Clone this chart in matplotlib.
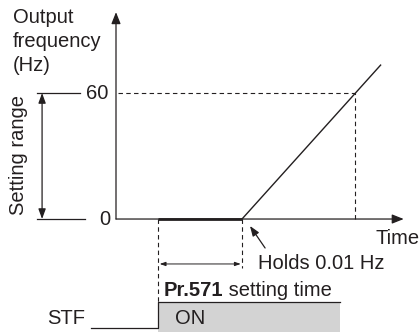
import matplotlib
matplotlib.use("Agg")
import matplotlib.pyplot as plt

plt.rcParams['font.family'] = ['Liberation Sans', 'DejaVu Sans']

# ---- data (time in arbitrary units, frequency in Hz) ----
freq_ticks = [0, 60]
freq_tick_labels = ["0", "60"]
hold_time = [1.0, 3.0]          # STF on -> end of Pr.571 hold
hold_freq = [0, 0]
ramp_time = [3.0, 6.3]
ramp_freq = [0, 73.3]
t_at_60 = 5.7
stf_off_time = 5.33

FS = 14.5
C = "#231f20"

fig = plt.figure(figsize=(4.2, 3.32), dpi=100)
ax = fig.add_axes([0, 0, 1, 1])
ax.set_xlim(-116 / 42, 304 / 42)
ax.set_ylim(-53.8, 104.3)
ax.axis("off")

# axes with arrows
ax.annotate("", xy=(0, 98.5), xytext=(0, 0),
            arrowprops=dict(arrowstyle="-|>,head_length=0.7,head_width=0.28", color=C, lw=0.9, shrinkA=0, shrinkB=0))
ax.annotate("", xy=(6.85, 0), xytext=(0, 0),
            arrowprops=dict(arrowstyle="-|>,head_length=0.7,head_width=0.28", color=C, lw=0.9, shrinkA=0, shrinkB=0))

# hold and ramp
ax.plot(hold_time, hold_freq, color=C, lw=2.0, solid_capstyle="butt")
ax.plot(ramp_time, ramp_freq, color=C, lw=1.0)

dash = dict(color=C, lw=0.8, ls=(0, (4, 3)))
ax.plot([0.05, t_at_60], [freq_ticks[1]] * 2, **dash)
ax.plot([t_at_60, t_at_60], [0, freq_ticks[1]], **dash)
ax.plot([hold_time[0]] * 2, [0, -39.5], **dash)
ax.plot([hold_time[1]] * 2, [0, -23.5], **dash)

# tick labels and leader lines
ax.plot([-1.88, -0.86], [freq_ticks[1]] * 2, color=C, lw=0.9)
ax.plot([-1.88, -0.74], [freq_ticks[0]] * 2, color=C, lw=0.9)
ax.text(-0.45, freq_ticks[1], freq_tick_labels[1], fontsize=FS, ha="center", va="center", color=C)
ax.text(-0.27, freq_ticks[0], freq_tick_labels[0], fontsize=FS, ha="center", va="center", color=C)

# setting range arrow
ax.annotate("", xy=(-1.76, freq_ticks[1]), xytext=(-1.76, freq_ticks[0]),
            arrowprops=dict(arrowstyle="<|-|>,head_length=0.6,head_width=0.22", color=C, lw=0.9, shrinkA=0, shrinkB=0))
ax.text(-2.32, 30.5, "Setting range", rotation=90, fontsize=FS, ha="center", va="center", color=C)

ax.text(-2.45, 100.3, "Output\nfrequency\n(Hz)", fontsize=FS, ha="left", va="top", color=C, linespacing=1.32)

ax.text(6.17, -9.5, "Time", fontsize=FS, ha="left", va="center", color=C)

# hold time arrow
ax.annotate("", xy=(hold_time[1] - 0.03, -21.4), xytext=(hold_time[0] + 0.04, -21.4),
            arrowprops=dict(arrowstyle="<|-|>,head_length=0.35,head_width=0.12", color=C, lw=0.7, shrinkA=0, shrinkB=0))
ax.text(3.38, -21.0, "Holds 0.01 Hz", fontsize=FS, ha="left", va="center", color=C)
ax.annotate("", xy=(3.19, -3.3), xytext=(3.55, -13.8),
            arrowprops=dict(arrowstyle="-|>,head_length=0.6,head_width=0.22", color=C, lw=0.9, shrinkA=0, shrinkB=0))

t1 = ax.text(1.14, -33.8, "Pr.571", fontsize=FS, ha="left", va="center", color=C, fontweight="bold")
fig.canvas.draw()
bb = t1.get_window_extent()
x_end = ax.transData.inverted().transform((bb.x1, bb.y0))[0]
ax.text(x_end, -33.8, " setting time", fontsize=FS, ha="left", va="center", color=C)

# STF signal
ax.fill_between([hold_time[0], stf_off_time], -39.5, -60, color="#d3d3d3", lw=0)
ax.plot([-0.6, hold_time[0], hold_time[0], stf_off_time], [-51.9, -51.9, -39.5, -39.5], color=C, lw=0.9)
ax.text(1.76, -47.3, "ON", fontsize=FS, ha="center", va="center", color=C)
ax.text(-0.74, -47.3, "STF", fontsize=FS, ha="right", va="center", color=C)

fig.savefig("out.png", dpi=100)
